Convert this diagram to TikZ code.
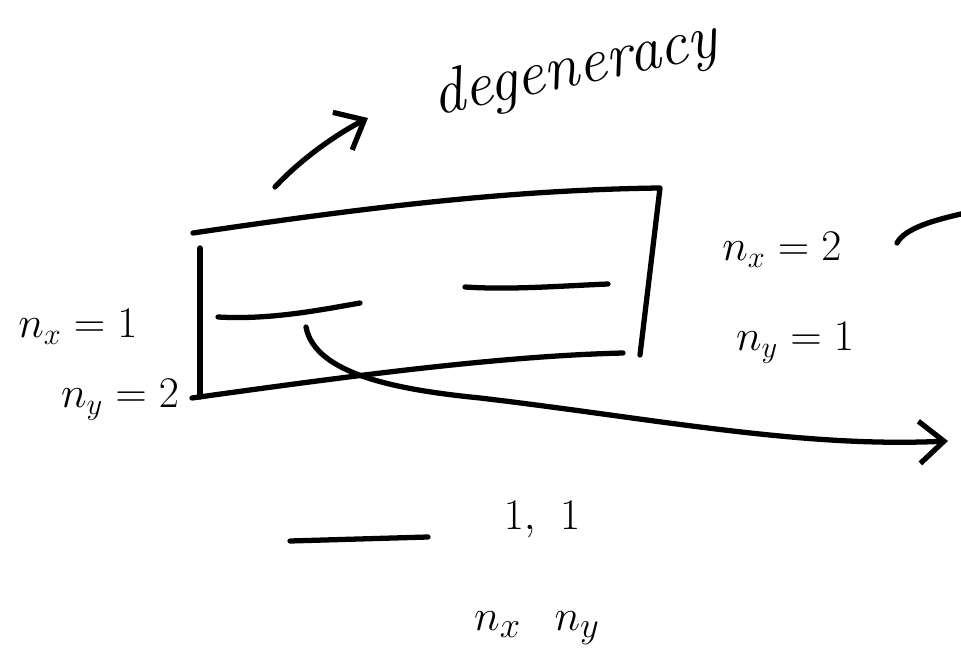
\documentclass[tikz,border=0pt]{standalone}
\usepackage{tikz}
\usetikzlibrary{arrows.meta}

\tikzset{
  pen/.style={line width=3pt,line cap=round,line join=round},
  hand/.style={inner sep=0pt,font=\fontsize{27}{32}\selectfont},
  big/.style={inner sep=0pt,font=\fontsize{32}{36}\selectfont},
  barb/.style={-{Straight Barb[length=14pt,width=24pt]}},
}

\begin{document}
\begin{tikzpicture}[x=0.02cm,y=-0.02cm]
  \useasboundingbox (0,0) rectangle (961,672);

  % label on top
  \node[inner sep=0pt,font=\itshape\fontsize{36}{40}\selectfont,rotate=12] (deg) at (575,70) {degeneracy};
  \coordinate (degfoot) at (275,187);
  \coordinate (degtip) at (368,118);
  \draw[pen,barb] (degfoot) .. controls (300,160) and (335,135) .. (degtip);

  % the box
  \coordinate (TL) at (193,233);
  \coordinate (TR) at (660,188);
  \coordinate (BR) at (640,355);
  \coordinate (LT) at (200,248);
  \coordinate (LB) at (200,397);
  \coordinate (BL) at (192,398);
  \coordinate (BRb) at (623,353);
  \draw[pen] (TL) .. controls (350,210) and (500,190) .. (TR) -- (BR);
  \draw[pen] (LT) -- (LB);
  \draw[pen] (BL) .. controls (350,376) and (500,356) .. (BRb);

  % levels
  \coordinate (L1a) at (218,317);
  \coordinate (L1b) at (360,303);
  \coordinate (L2a) at (465,287);
  \coordinate (L2b) at (608,284);
  \draw[pen] (L1a) .. controls (270,320) and (320,310) .. (L1b);
  \draw[pen] (L2a) .. controls (510,290) and (560,286) .. (L2b);

  \node[hand] (nx1) at (78,327) {$n_x = 1$};
  \node[hand] (ny2) at (120,400) {$n_y = 2$};
  \node[hand] (nx2) at (782,250) {$n_x = 2$};
  \node[hand] (ny1) at (795,343) {$n_y = 1$};

  % curved arrow
  \coordinate (from) at (306,327);
  \coordinate (mid) at (480,398);
  \coordinate (to) at (948,441);
  \draw[pen,barb] (from) .. controls (315,375) and (400,390) .. (mid)
                         .. controls (650,418) and (800,448) .. (to);

  \coordinate (hook) at (897,243);
  \coordinate (edge) at (961,214);
  \draw[pen] (hook) .. controls (905,228) and (935,220) .. (edge);

  % ground state
  \coordinate (G1) at (290,541);
  \coordinate (G2) at (428,537);
  \draw[pen] (G1) -- (G2);
  \node[big] (one) at (542,520) {$1,\ 1$};
  \node[big] (nxny) at (537,628) {$n_x\hspace{0.6em}n_y$};
\end{tikzpicture}
\end{document}
